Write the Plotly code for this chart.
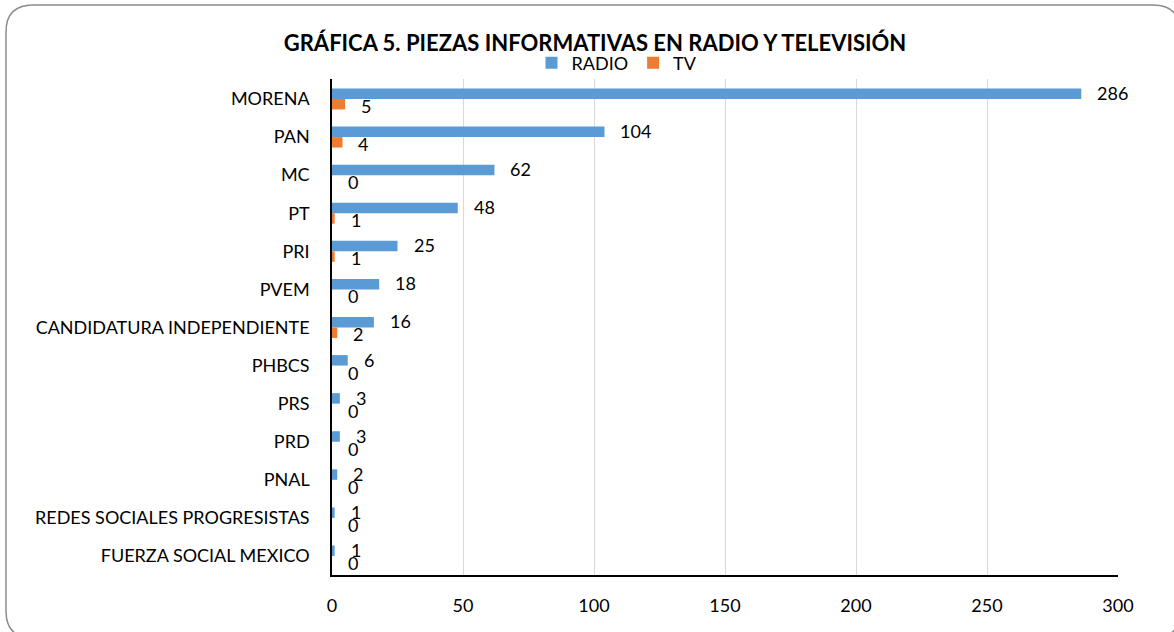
import plotly.graph_objects as go

categories = ["MORENA", "PAN", "MC", "PT", "PRI", "PVEM", "CANDIDATURA INDEPENDIENTE",
              "PHBCS", "PRS", "PRD", "PNAL", "REDES SOCIALES PROGRESISTAS", "FUERZA SOCIAL MEXICO"]
radio = [286, 104, 62, 48, 25, 18, 16, 6, 3, 3, 2, 1, 1]
tv = [5, 4, 0, 1, 1, 0, 2, 0, 0, 0, 0, 0, 0]
x_ticks = [0, 50, 100, 150, 200, 250, 300]

FONT = "Lato"
W, H = 1174, 632
L, R, T, B = 332, 56, 79, 57
pw, ph = W - L - R, H - T - B

fig = go.Figure()
fig.add_trace(go.Bar(y=categories, x=radio, name="RADIO", orientation="h",
                     marker=dict(color="#5B9BD5", line=dict(width=0))))
fig.add_trace(go.Bar(y=categories, x=tv, name="TV", orientation="h",
                     marker=dict(color="#ED7D31", line=dict(width=0))))

anns = []
for c, v in zip(categories, radio):
    anns.append(dict(x=v, y=c, xref="x", yref="y", text=str(v), showarrow=False,
                     xanchor="left", xshift=14, yshift=6, font=dict(size=18, color="#000", family=FONT)))
for c, v in zip(categories, tv):
    anns.append(dict(x=v, y=c, xref="x", yref="y", text=str(v), showarrow=False,
                     xanchor="left", xshift=14, yshift=-7, font=dict(size=18, color="#000", family=FONT)))

# rounded outer frame (pixel -> paper)
def px(x):
    return (x - L) / pw
def py(y):
    return (H - B - y) / ph
x0, y0, x1, y1, r = 6, 5, 1180, 638, 27
path = (f"M {px(x0+r)},{py(y0)} L {px(x1-r)},{py(y0)} Q {px(x1)},{py(y0)} {px(x1)},{py(y0+r)} "
        f"L {px(x1)},{py(y1-r)} Q {px(x1)},{py(y1)} {px(x1-r)},{py(y1)} "
        f"L {px(x0+r)},{py(y1)} Q {px(x0)},{py(y1)} {px(x0)},{py(y1-r)} "
        f"L {px(x0)},{py(y0+r)} Q {px(x0)},{py(y0)} {px(x0+r)},{py(y0)} Z")

fig.update_layout(
    width=W, height=H,
    margin=dict(l=L, r=R, t=T, b=B, autoexpand=False),
    paper_bgcolor="white", plot_bgcolor="white",
    barmode="group", bargap=0.45, bargroupgap=0,
    font=dict(family=FONT, size=18, color="#000"),
    title=dict(text="<b>GRÁFICA 5. PIEZAS INFORMATIVAS EN RADIO Y TELEVISIÓN</b>",
               x=595 / W, xanchor="center", y=1 - 43 / H, yanchor="middle",
               font=dict(size=22, family=FONT, color="#000")),
    legend=dict(orientation="h", x=px(617), xanchor="center",
                y=py(63), yanchor="middle",
                font=dict(size=18, family=FONT), traceorder="normal",
                bgcolor="rgba(0,0,0,0)", itemwidth=30),
    xaxis=dict(range=[0, 300], tickvals=x_ticks, showgrid=True, gridcolor="#D9D9D9",
               gridwidth=1, zeroline=False, showline=True, linecolor="#000", linewidth=1.5,
               ticks="", ticklabelstandoff=14, tickfont=dict(size=18)),
    yaxis=dict(categoryorder="array", categoryarray=categories, autorange="reversed",
               showline=True, linecolor="#000", linewidth=1.5, ticks="",
               ticklabelstandoff=17, tickfont=dict(size=18), showgrid=False, zeroline=False),
    annotations=anns,
    shapes=[dict(type="path", path=path, xref="paper", yref="paper",
                 line=dict(color="#8C8C8C", width=1.5), layer="below")],
    showlegend=True,
)

fig.write_html("out.html", config={"displayModeBar": False},
               post_script="document.body.style.margin='0';")
